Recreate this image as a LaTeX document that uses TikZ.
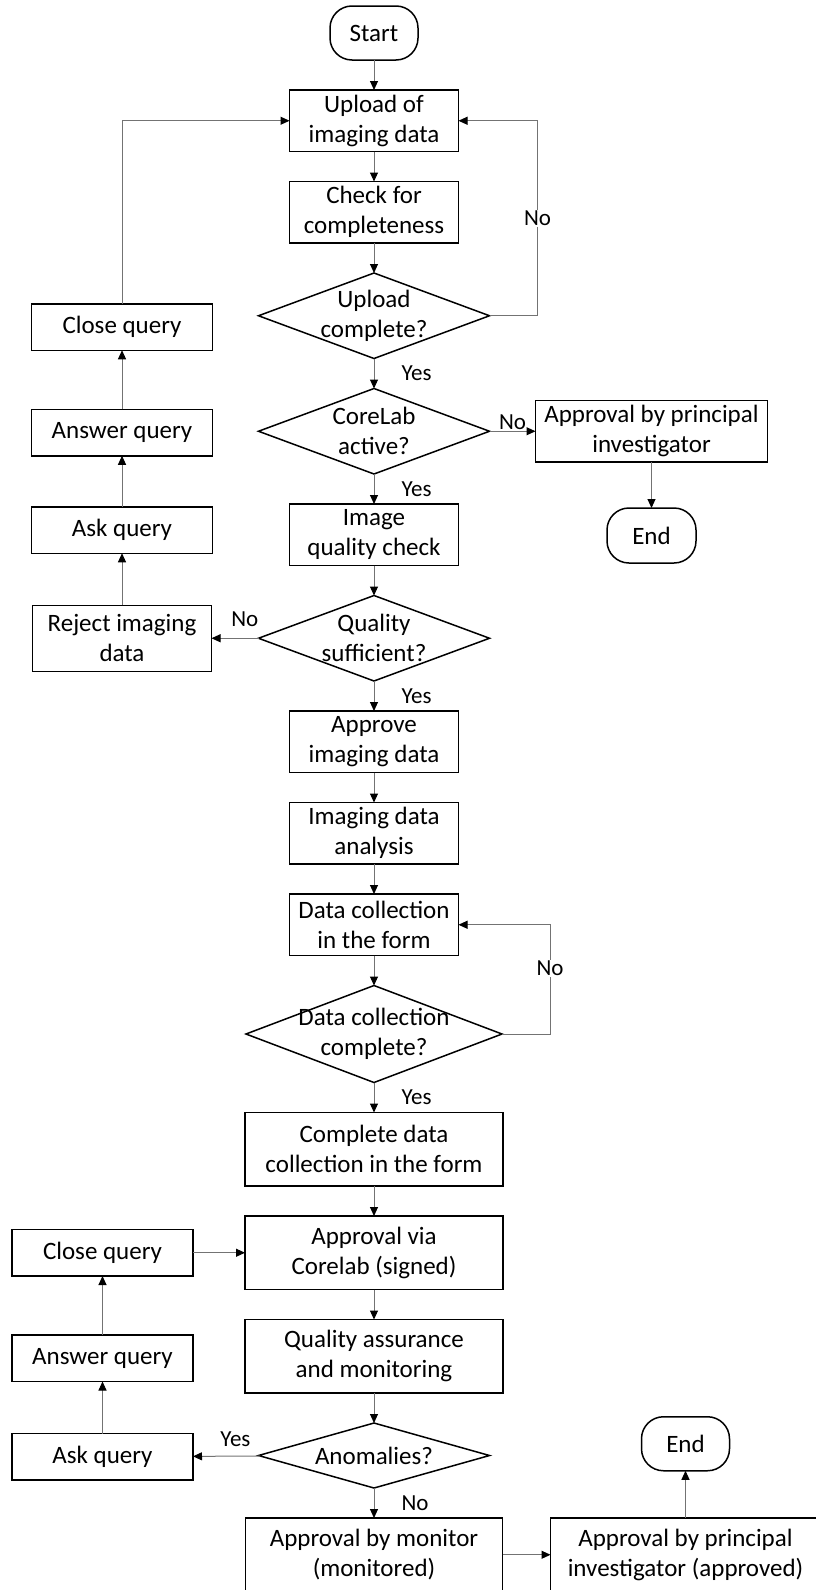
\documentclass[tikz,border=0pt]{standalone}
\usepackage{fontspec}
\setmainfont{Carlito}
\usetikzlibrary{arrows.meta,positioning,shapes.geometric}

\begin{document}
\begin{tikzpicture}[
  font=\fontsize{25}{30}\selectfont,
  node distance=30pt,
  proc/.style={draw, line width=1.5pt, align=center, inner sep=2pt,
    outer sep=0pt, minimum height=61.5pt, minimum width=169pt},
  wide/.style={proc, minimum height=73.5pt, minimum width=258pt},
  side/.style={proc, minimum height=46.5pt, minimum width=181pt},
  term/.style={draw, line width=1.5pt, rounded corners=22pt, outer sep=0pt,
    minimum height=54pt, minimum width=88pt},
  dec/.style={diamond, draw, line width=1.5pt, inner sep=0pt, outer sep=0pt,
    minimum width=231pt, minimum height=85.5pt},
  arr/.style={-{Triangle[length=9pt, width=8pt, color=black]},
    line width=1pt, draw=black!55},
  lbl/.style={font=\fontsize{23}{27}\selectfont, inner sep=1pt}
]
  \useasboundingbox (0,0) rectangle (815pt,-1590pt);

  % main flow
  \node[term] (start) at (374pt,-33pt) {Start};
  \node[proc, below=of start] (upl) {Upload of\\imaging data};
  \node[proc, below=of upl] (chk) {Check for\\completeness};
  \node[dec, below=of chk, label={[align=center]center:Upload\\complete?}] (dupl) {};
  \node[dec, below=of dupl, label={[align=center]center:CoreLab\\active?}] (dcore) {};
  \node[proc, below=of dcore] (imgq) {Image\\quality check};
  \node[dec, below=of imgq, label={[align=center]center:Quality\\sufficient?}] (dqual) {};
  \node[proc, below=of dqual] (appr) {Approve\\imaging data};
  \node[proc, below=of appr] (anal) {Imaging data\\analysis};
  \node[proc, below=of anal] (coll) {Data collection\\in the form};
  \node[dec, minimum width=256pt, minimum height=97pt, below=of coll,
    label={[align=center]center:Data collection\\complete?}] (dcoll) {};
  \node[wide, below=of dcoll] (compl) {Complete data\\collection in the form};
  \node[wide, below=of compl] (sign) {Approval via\\Corelab (signed)};
  \node[wide, below=of sign] (qa) {Quality assurance\\and monitoring};
  \node[dec, minimum height=65pt, below=of qa,
    label={center:Anomalies?}] (danom) {};
  \node[wide, minimum width=257pt, below=of danom] (mon) {Approval by monitor\\(monitored)};

  % CoreLab not active
  \node[proc, minimum width=232pt, right=46pt of dcore] (pi) {Approval by principal\\investigator};
  \node[term, minimum width=89pt, minimum height=55pt, below=46pt of pi] (fin1) {End};

  % query loop (upper)
  \node[proc, minimum width=179pt, minimum height=66pt, left=47pt of dqual] (rej) {Reject imaging\\data};
  \node[side, above=52pt of rej] (ask1) {Ask query};
  \node[side, above=51pt of ask1] (ans1) {Answer query};
  \node[side, above=59pt of ans1] (cls1) {Close query};

  % query loop (lower)
  \node[side, left=52pt of sign] (cls2) {Close query};
  \node[side, below=59pt of cls2] (ans2) {Answer query};
  \node[side, below=52pt of ans2] (ask2) {Ask query};

  % final approval
  \node[proc, minimum width=270pt, minimum height=74pt, right=48pt of mon] (pi2) {Approval by principal\\investigator (approved)};
  \node[term, above=47pt of pi2] (fin2) {End};

  \draw[arr] (start) -- (upl);
  \draw[arr] (upl) -- (chk);
  \draw[arr] (chk) -- (dupl);
  \draw[arr] (dupl) -- (dcore) node[lbl, midway, right=26pt] {Yes};
  \draw[arr] (dupl.east) -- ++(48pt,0) |- (upl.east) node[lbl, pos=0.25, fill=white] {No};
  \draw[arr] (dcore) -- (pi) node[lbl, midway, above] {No};
  \draw[arr] (pi) -- (fin1);
  \draw[arr] (dcore) -- (imgq) node[lbl, midway, right=26pt] {Yes};
  \draw[arr] (imgq) -- (dqual);
  \draw[arr] (dqual) -- (rej) node[lbl, pos=0.29, above=10pt] {No};
  \draw[arr] (rej) -- (ask1);
  \draw[arr] (ask1) -- (ans1);
  \draw[arr] (ans1) -- (cls1);
  \draw[arr] (cls1) |- (upl);
  \draw[arr] (dqual) -- (appr) node[lbl, midway, right=26pt] {Yes};
  \draw[arr] (appr) -- (anal);
  \draw[arr] (anal) -- (coll);
  \draw[arr] (coll) -- (dcoll);
  \draw[arr] (dcoll.east) -- ++(48pt,0) |- (coll.east) node[lbl, pos=0.3, fill=white] {No};
  \draw[arr] (dcoll) -- (compl) node[lbl, midway, right=26pt] {Yes};
  \draw[arr] (compl) -- (sign);
  \draw[arr] (sign) -- (qa);
  \draw[arr] (qa) -- (danom);
  \draw[arr] (danom) -- (ask2) node[lbl, pos=0.37, above=8pt] {Yes};
  \draw[arr] (ask2) -- (ans2);
  \draw[arr] (ans2) -- (cls2);
  \draw[arr] (cls2) -- (sign);
  \draw[arr] (danom) -- (mon) node[lbl, midway, right=26pt] {No};
  \draw[arr] (mon) -- (pi2);
  \draw[arr] (pi2) -- (fin2);
\end{tikzpicture}
\end{document}
